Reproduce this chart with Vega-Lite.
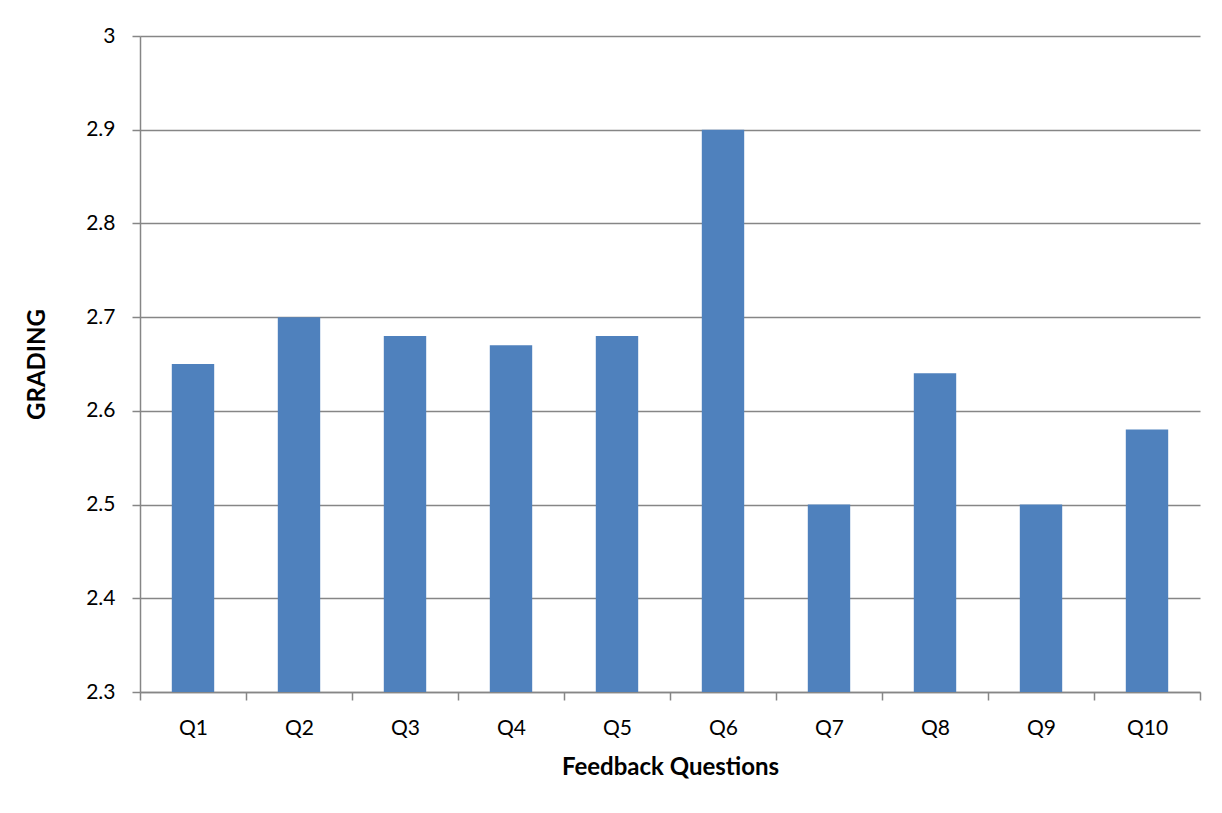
{
  "$schema": "https://vega.github.io/schema/vega-lite/v6.json",
  "width": 1060,
  "height": 656,
  "autosize": {"type": "none"},
  "padding": {"left": 140, "top": 36, "right": 22, "bottom": 121},
  "background": "white",
  "config": {
    "view": {"stroke": null},
    "font": "Lato",
    "axis": {
      "labelFont": "Lato",
      "titleFont": "Lato",
      "labelColor": "black",
      "titleColor": "black",
      "labelFontSize": 21,
      "titleFontSize": 24,
      "titleFontWeight": "bold",
      "domainColor": "#868686",
      "tickColor": "#868686",
      "gridColor": "#868686",
      "gridOpacity": 1,
      "domainWidth": 1.5,
      "tickWidth": 1.5,
      "gridWidth": 1.5,
      "tickSize": 8
    }
  },
  "data": {
    "values": [
      {"question": "Q1", "grading": 2.65},
      {"question": "Q2", "grading": 2.7},
      {"question": "Q3", "grading": 2.68},
      {"question": "Q4", "grading": 2.67},
      {"question": "Q5", "grading": 2.68},
      {"question": "Q6", "grading": 2.9},
      {"question": "Q7", "grading": 2.5},
      {"question": "Q8", "grading": 2.64},
      {"question": "Q9", "grading": 2.5},
      {"question": "Q10", "grading": 2.58}
    ]
  },
  "mark": {"type": "bar", "color": "#4F81BD", "clip": true, "width": {"band": 0.4}},
  "encoding": {
    "x": {
      "field": "question",
      "type": "nominal",
      "sort": null,
      "scale": {"paddingInner": 0, "paddingOuter": 0},
      "axis": {
        "title": "Feedback Questions",
        "labelAngle": 0,
        "tickBand": "extent",
        "labelPadding": 17,
        "titlePadding": 17,
        "grid": false
      }
    },
    "y": {
      "field": "grading",
      "type": "quantitative",
      "scale": {"domain": [2.3, 3], "nice": false, "zero": false},
      "axis": {
        "title": "GRADING",
        "values": [2.3, 2.4, 2.5, 2.6, 2.7, 2.8, 2.9, 3],
        "format": ".1~f",
        "labelPadding": 17,
        "titlePadding": 36,
        "grid": true
      }
    }
  }
}
